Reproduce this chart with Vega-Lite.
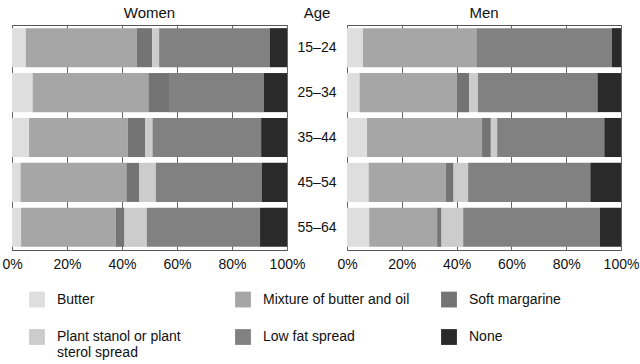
{
  "$schema": "https://vega.github.io/schema/vega-lite/v6.json",
  "padding": {"left": 1, "top": 5, "right": 1, "bottom": 0},
  "background": "white",
  "bounds": "flush",
  "config": {
    "font": "Liberation Sans",
    "view": {"stroke": "#555", "strokeWidth": 1},
    "title": {"fontSize": 15, "fontWeight": "normal", "color": "#111", "offset": 4},
    "axis": {"labelFontSize": 14, "labelColor": "#111"}
  },
  "data": {
    "values": [
      {"sex": "Women", "age": "15–24", "spread": "Butter", "value": 5.0},
      {"sex": "Women", "age": "15–24", "spread": "Mixture of butter and oil", "value": 40.4},
      {"sex": "Women", "age": "15–24", "spread": "Soft margarine", "value": 5.6},
      {"sex": "Women", "age": "15–24", "spread": "Plant stanol or plant sterol spread", "value": 2.5},
      {"sex": "Women", "age": "15–24", "spread": "Low fat spread", "value": 40.2},
      {"sex": "Women", "age": "15–24", "spread": "None", "value": 6.3},
      {"sex": "Women", "age": "25–34", "spread": "Butter", "value": 7.5},
      {"sex": "Women", "age": "25–34", "spread": "Mixture of butter and oil", "value": 42.1},
      {"sex": "Women", "age": "25–34", "spread": "Soft margarine", "value": 7.5},
      {"sex": "Women", "age": "25–34", "spread": "Plant stanol or plant sterol spread", "value": 0},
      {"sex": "Women", "age": "25–34", "spread": "Low fat spread", "value": 34.5},
      {"sex": "Women", "age": "25–34", "spread": "None", "value": 8.4},
      {"sex": "Women", "age": "35–44", "spread": "Butter", "value": 6.2},
      {"sex": "Women", "age": "35–44", "spread": "Mixture of butter and oil", "value": 35.9},
      {"sex": "Women", "age": "35–44", "spread": "Soft margarine", "value": 6.4},
      {"sex": "Women", "age": "35–44", "spread": "Plant stanol or plant sterol spread", "value": 2.6},
      {"sex": "Women", "age": "35–44", "spread": "Low fat spread", "value": 39.5},
      {"sex": "Women", "age": "35–44", "spread": "None", "value": 9.4},
      {"sex": "Women", "age": "45–54", "spread": "Butter", "value": 3.1},
      {"sex": "Women", "age": "45–54", "spread": "Mixture of butter and oil", "value": 38.5},
      {"sex": "Women", "age": "45–54", "spread": "Soft margarine", "value": 4.6},
      {"sex": "Women", "age": "45–54", "spread": "Plant stanol or plant sterol spread", "value": 6.1},
      {"sex": "Women", "age": "45–54", "spread": "Low fat spread", "value": 38.5},
      {"sex": "Women", "age": "45–54", "spread": "None", "value": 9.2},
      {"sex": "Women", "age": "55–64", "spread": "Butter", "value": 3.3},
      {"sex": "Women", "age": "55–64", "spread": "Mixture of butter and oil", "value": 34.4},
      {"sex": "Women", "age": "55–64", "spread": "Soft margarine", "value": 3.2},
      {"sex": "Women", "age": "55–64", "spread": "Plant stanol or plant sterol spread", "value": 8.1},
      {"sex": "Women", "age": "55–64", "spread": "Low fat spread", "value": 41.2},
      {"sex": "Women", "age": "55–64", "spread": "None", "value": 9.8},
      {"sex": "Men", "age": "15–24", "spread": "Butter", "value": 5.8},
      {"sex": "Men", "age": "15–24", "spread": "Mixture of butter and oil", "value": 41.4},
      {"sex": "Men", "age": "15–24", "spread": "Soft margarine", "value": 0},
      {"sex": "Men", "age": "15–24", "spread": "Plant stanol or plant sterol spread", "value": 0},
      {"sex": "Men", "age": "15–24", "spread": "Low fat spread", "value": 49.4},
      {"sex": "Men", "age": "15–24", "spread": "None", "value": 3.4},
      {"sex": "Men", "age": "25–34", "spread": "Butter", "value": 4.6},
      {"sex": "Men", "age": "25–34", "spread": "Mixture of butter and oil", "value": 35.4},
      {"sex": "Men", "age": "25–34", "spread": "Soft margarine", "value": 4.6},
      {"sex": "Men", "age": "25–34", "spread": "Plant stanol or plant sterol spread", "value": 3.2},
      {"sex": "Men", "age": "25–34", "spread": "Low fat spread", "value": 43.6},
      {"sex": "Men", "age": "25–34", "spread": "None", "value": 8.6},
      {"sex": "Men", "age": "35–44", "spread": "Butter", "value": 7.3},
      {"sex": "Men", "age": "35–44", "spread": "Mixture of butter and oil", "value": 42.0},
      {"sex": "Men", "age": "35–44", "spread": "Soft margarine", "value": 3.2},
      {"sex": "Men", "age": "35–44", "spread": "Plant stanol or plant sterol spread", "value": 2.3},
      {"sex": "Men", "age": "35–44", "spread": "Low fat spread", "value": 39.1},
      {"sex": "Men", "age": "35–44", "spread": "None", "value": 6.1},
      {"sex": "Men", "age": "45–54", "spread": "Butter", "value": 7.9},
      {"sex": "Men", "age": "45–54", "spread": "Mixture of butter and oil", "value": 28.1},
      {"sex": "Men", "age": "45–54", "spread": "Soft margarine", "value": 2.9},
      {"sex": "Men", "age": "45–54", "spread": "Plant stanol or plant sterol spread", "value": 5.3},
      {"sex": "Men", "age": "45–54", "spread": "Low fat spread", "value": 44.6},
      {"sex": "Men", "age": "45–54", "spread": "None", "value": 11.2},
      {"sex": "Men", "age": "55–64", "spread": "Butter", "value": 8.1},
      {"sex": "Men", "age": "55–64", "spread": "Mixture of butter and oil", "value": 24.8},
      {"sex": "Men", "age": "55–64", "spread": "Soft margarine", "value": 1.6},
      {"sex": "Men", "age": "55–64", "spread": "Plant stanol or plant sterol spread", "value": 7.9},
      {"sex": "Men", "age": "55–64", "spread": "Low fat spread", "value": 49.9},
      {"sex": "Men", "age": "55–64", "spread": "None", "value": 7.7}
    ]
  },
  "transform": [
    {"calculate": "indexof(['Butter', 'Mixture of butter and oil', 'Soft margarine', 'Plant stanol or plant sterol spread', 'Low fat spread', 'None'], datum.spread)", "as": "k"}
  ],
  "spacing": 10,
  "hconcat": [
    {
      "width": 275,
      "height": 225,
      "title": "Women",
      "transform": [{"filter": "datum.sex == 'Women'"}],
      "mark": {"type": "bar"},
      "encoding": {
        "y": {"field": "age", "type": "nominal", "axis": null, "scale": {"paddingInner": 0.13, "paddingOuter": 0.07}},
        "x": {"field": "value", "type": "quantitative", "stack": "zero", "scale": {"domain": [0, 100]},
          "axis": {"title": null, "values": [0, 20, 40, 60, 80, 100], "labelExpr": "datum.value + '%'", "labelFlush": false, "domain": false, "ticks": false, "labelPadding": 7, "grid": true, "gridColor": "#666", "gridOpacity": 1}},
        "color": {"field": "spread", "type": "nominal",
          "scale": {"domain": ["Butter", "Mixture of butter and oil", "Soft margarine", "Plant stanol or plant sterol spread", "Low fat spread", "None"],
                    "range": ["#dedede", "#a6a6a6", "#747474", "#cccccc", "#818181", "#2a2a2a"]},
          "legend": {"orient": "bottom", "title": null, "columns": 3, "direction": "horizontal", "gridAlign": "all", "symbolType": "square", "symbolSize": 250, "symbolStrokeWidth": 0, "labelFontSize": 14, "labelColor": "#111", "labelLimit": 300, "labelOffset": 12, "rowPadding": 14, "columnPadding": 31, "offset": -5, "padding": 17,
            "labelExpr": "datum.label == 'Plant stanol or plant sterol spread' ? ['Plant stanol or plant', 'sterol spread'] : datum.label"}},
        "order": {"field": "k", "type": "quantitative"}
      }
    },
    {
      "width": 40,
      "height": 225,
      "title": "Age",
      "view": {"stroke": null},
      "transform": [{"filter": "datum.sex == 'Women' && datum.spread == 'Butter'"}],
      "mark": {"type": "text", "fontSize": 14, "color": "#111"},
      "encoding": {
        "y": {"field": "age", "type": "nominal", "axis": null, "scale": {"paddingInner": 0.13, "paddingOuter": 0.07}},
        "text": {"field": "age"}
      }
    },
    {
      "width": 274,
      "height": 225,
      "title": "Men",
      "transform": [{"filter": "datum.sex == 'Men'"}],
      "mark": {"type": "bar"},
      "encoding": {
        "y": {"field": "age", "type": "nominal", "axis": null, "scale": {"paddingInner": 0.13, "paddingOuter": 0.07}},
        "x": {"field": "value", "type": "quantitative", "stack": "zero", "scale": {"domain": [0, 100]},
          "axis": {"title": null, "values": [0, 20, 40, 60, 80, 100], "labelExpr": "datum.value + '%'", "labelFlush": false, "domain": false, "ticks": false, "labelPadding": 7, "grid": true, "gridColor": "#666", "gridOpacity": 1}},
        "color": {"field": "spread", "type": "nominal"},
        "order": {"field": "k", "type": "quantitative"}
      }
    }
  ]
}
